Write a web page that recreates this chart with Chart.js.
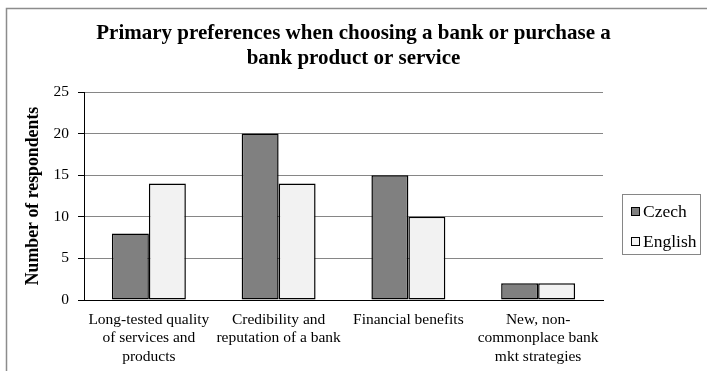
<!DOCTYPE html>
<html>
<head>
<meta charset="utf-8">
<title>Primary preferences when choosing a bank</title>
<script src="https://cdn.jsdelivr.net/npm/chart.js@4.4.1/dist/chart.umd.min.js"></script>
<style>
    body { margin: 0; background: #fff; }
    #wrap { width: 707px; height: 371px; }
</style>
</head>
<body>
<div id="wrap"><canvas id="prefChart"></canvas></div>
<script>
// chart data
const categories = [
    ['Long-tested quality', 'of services and', 'products'],
    ['Credibility and', 'reputation of a bank'],
    ['Financial benefits'],
    ['New, non-', 'commonplace bank', 'mkt strategies']
];
const czechValues = [8, 20, 15, 2];
const englishValues = [14, 14, 10, 2];
const seriesNames = ['Czech', 'English'];
const yTicks = [0, 5, 10, 15, 20, 25];
const titleLines = ['Primary preferences when choosing a bank or purchase a', 'bank product or service'];
const yAxisTitle = 'Number of respondents';

const serif = "'Liberation Serif', 'Times New Roman', serif";
const gridGray = '#868686';

// outer frame of the chart (only top and left edges are visible)
const outerFrame = {
    id: 'outerFrame',
    afterDraw(chart) {
        const ctx = chart.ctx;
        ctx.save();
        ctx.strokeStyle = '#8c8c8c';
        ctx.lineWidth = 1.5;
        ctx.beginPath();
        ctx.moveTo(6.5, chart.height + 2);
        ctx.lineTo(6.5, 8.5);
        ctx.lineTo(chart.width + 2, 8.5);
        ctx.stroke();
        ctx.restore();
    }
};

// legend drawn in its own layout box on the right
const boxedLegend = {
    id: 'boxedLegend',
    beforeInit(chart) {
        const box = {
            position: 'right',
            weight: 0,
            fullSize: false,
            options: {},
            isHorizontal() { return false; },
            update(maxWidth, maxHeight) {
                this.width = 104;
                this.height = maxHeight;
                return this.width;
            },
            draw() {
                const ctx = chart.ctx;
                const fx = this.left + 19;
                const fy = chart.chartArea.top + 102;
                ctx.save();
                ctx.strokeStyle = gridGray;
                ctx.lineWidth = 1;
                ctx.strokeRect(Math.round(fx) + 0.5, Math.round(fy) + 0.5, 78, 60);
                ctx.font = '17.5px ' + serif;
                ctx.textBaseline = 'middle';
                ctx.textAlign = 'left';
                chart.data.datasets.forEach((ds, i) => {
                    const rowY = fy + 17.5 + i * 29.5;
                    const sx = Math.round(fx + 9) + 0.5;
                    const sy = Math.round(rowY - 4.5) + 0.5;
                    ctx.fillStyle = ds.backgroundColor;
                    ctx.fillRect(sx, sy, 8, 8);
                    ctx.strokeStyle = '#000';
                    ctx.strokeRect(sx, sy, 8, 8);
                    ctx.fillStyle = '#000';
                    ctx.fillText(ds.label, fx + 21, rowY + 1);
                });
                ctx.restore();
            }
        };
        Chart.layouts.addBox(chart, box);
    }
};

const ctx = document.getElementById('prefChart').getContext('2d');
new Chart(ctx, {
    type: 'bar',
    data: {
        labels: categories,
        datasets: [{
            label: seriesNames[0],
            data: czechValues,
            backgroundColor: '#808080',
            borderColor: '#000',
            borderWidth: 1.5,
            borderSkipped: false
        }, {
            label: seriesNames[1],
            data: englishValues,
            backgroundColor: '#f2f2f2',
            borderColor: '#000',
            borderWidth: 1.5,
            borderSkipped: false
        }]
    },
    options: {
        responsive: true,
        maintainAspectRatio: false,
        animation: false,
        devicePixelRatio: 1,
        categoryPercentage: 0.57,
        barPercentage: 1,
        layout: { padding: 0 },
        plugins: {
            legend: { display: false },
            tooltip: { enabled: false },
            title: {
                display: true,
                text: titleLines,
                color: '#000',
                font: { family: serif, size: 21, weight: 'bold', lineHeight: 1.2 },
                padding: { top: 21, bottom: 20.6 }
            }
        },
        scales: {
            x: {
                afterFit(scale) { scale.height = 71; },
                grid: {
                    drawTicks: false,
                    lineWidth: 1,
                    // only the right edge of the plot area
                    color: (c) => c.index === categories.length ? gridGray : 'rgba(0,0,0,0)'
                },
                border: { color: '#000', width: 1 },
                ticks: {
                    color: '#000',
                    padding: 10,
                    maxRotation: 0,
                    autoSkip: false,
                    font: { family: serif, size: 15.5, lineHeight: 1.22 }
                }
            },
            y: {
                min: yTicks[0],
                max: yTicks[yTicks.length - 1],
                afterFit(scale) { scale.width = 84; },
                grid: {
                    color: (c) => c.tick && c.tick.value === 0 ? '#000' : gridGray,
                    tickColor: '#000',
                    tickLength: 6,
                    lineWidth: 1
                },
                border: { color: '#000', width: 1 },
                ticks: {
                    stepSize: yTicks[1] - yTicks[0],
                    color: '#000',
                    padding: 9,
                    font: { family: serif, size: 15.5 }
                },
                title: {
                    display: true,
                    text: yAxisTitle,
                    color: '#000',
                    font: { family: serif, size: 17.8, weight: 'bold', lineHeight: 1.2 },
                    padding: { top: 23, bottom: 0 }
                }
            }
        }
    },
    plugins: [outerFrame, boxedLegend]
});
</script>
</body>
</html>
